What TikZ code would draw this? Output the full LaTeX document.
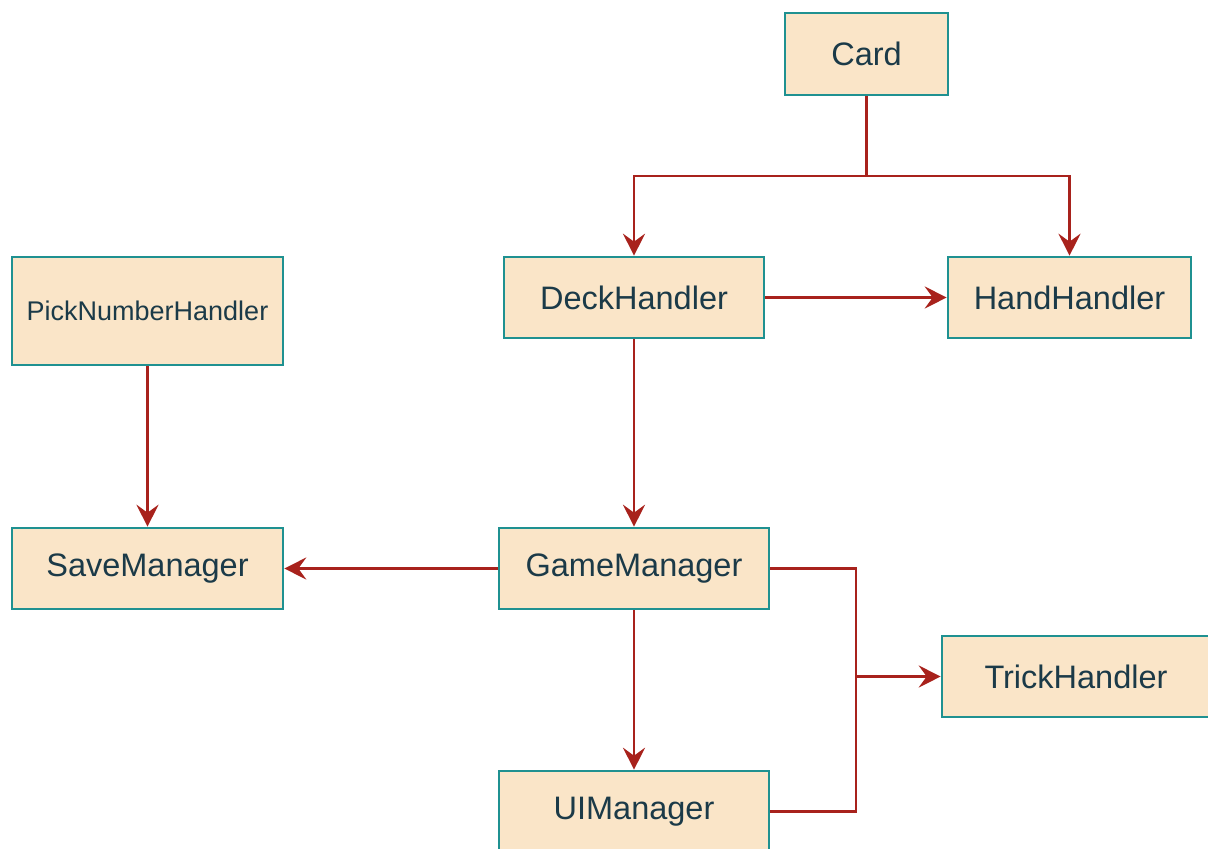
\documentclass[tikz,border=0pt]{standalone}
\usepackage{fontspec}
\setmainfont{Liberation Sans}
\usetikzlibrary{arrows.meta}
\definecolor{boxfill}{HTML}{FAE5C8}
\definecolor{boxline}{HTML}{1F9191}
\definecolor{linkred}{HTML}{A8221C}
\definecolor{labelink}{HTML}{1B3A48}

\begin{document}
\begin{tikzpicture}[x=1pt,y=-1pt,
  cls/.style={draw=boxline, fill=boxfill, line width=2.6pt, text=labelink,
    font=\fontsize{32.5}{38}\selectfont, inner sep=0pt},
  link/.style={draw=linkred, line width=2.6pt,
    -{Stealth[length=22pt,width=22pt,inset=8pt]}},
  plain/.style={draw=linkred, line width=2.6pt}]
\useasboundingbox (0,0) rectangle (1208,849);

% classes
\node[cls, minimum width=163pt, minimum height=82pt] (card) at (866.5,54) {Card};
\node[cls, minimum width=260pt, minimum height=81pt] (deck) at (634,297.5) {DeckHandler};
\node[cls, minimum width=243pt, minimum height=81pt] (hand) at (1069.5,297.5) {HandHandler};
\node[cls, minimum width=271pt, minimum height=108pt,
  font=\fontsize{27}{32}\selectfont] (pick) at (147.5,311) {PickNumberHandler};
\node[cls, minimum width=271pt, minimum height=81pt] (save) at (147.5,568.5) {SaveManager};
\node[cls, minimum width=270pt, minimum height=81pt] (game) at (634,568.5) {GameManager};
\node[cls, minimum width=268pt, minimum height=81pt] (trick) at (1076,676.5) {TrickHandler};
\node[cls, minimum width=270pt, minimum height=81pt] (ui) at (634,811.5) {UIManager};

% branch points
\coordinate (split) at (866.5,176);
\coordinate (join) at (856,676.5);

% connectors
\draw[plain] (card.south) -- (split);
\draw[link] (split) -| (deck.north);
\draw[link] (split) -| (hand.north);
\draw[link] (deck.east) -- (hand.west);
\draw[link] (deck.south) -- (game.north);
\draw[link] (pick.south) -- (save.north);
\draw[link] (game.west) -- (save.east);
\draw[link] (game.south) -- (ui.north);
\draw[plain] (game.east) -| (join);
\draw[plain] (ui.east) -| (join);
\draw[link] (join) -- (trick.west);
\end{tikzpicture}
\end{document}
